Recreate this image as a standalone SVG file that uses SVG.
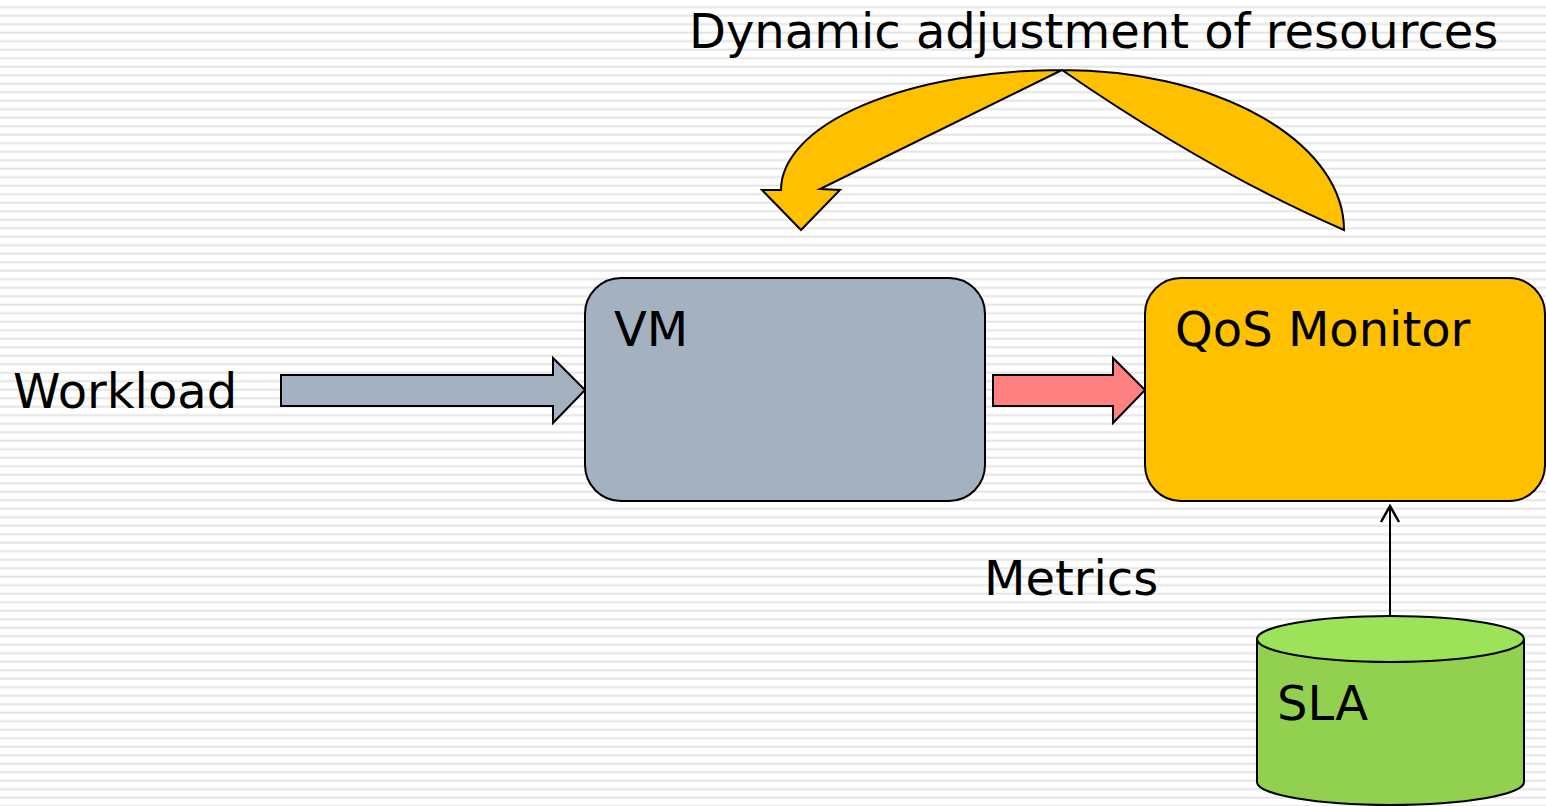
<svg xmlns="http://www.w3.org/2000/svg" width="1546" height="806" viewBox="0 0 1546 806">
<defs>
<pattern id="stripes" x="0" y="0" width="20" height="8.5" patternUnits="userSpaceOnUse">
<rect x="0" y="0" width="20" height="8.5" fill="#ffffff"/>
<rect x="0" y="6.2" width="20" height="2" fill="#e4e4e4"/>
</pattern>
<style>
.t{font-family:"DejaVu Sans",Verdana,sans-serif;font-size:48px;fill:#000}
.s{stroke:#000;stroke-width:2;stroke-linejoin:miter}
</style>
</defs>
<rect width="1546" height="806" fill="url(#stripes)"/>
<text class="t" x="689" y="48">Dynamic adjustment of resources</text>
<g id="feedback-arrow">
<path class="s" fill="#FFC000" d="M781,190 A281,120 0 0 1 1062,70 A282,160 0 0 1 1344,230 Q1210,172 1062,70 L820,189 L840,190 L801,230 L762,190 Z"/>
</g>
<g id="connectors">
<path class="s" fill="#A3B1C1" d="M281,375 L553,375 L553,358 L585,390 L553,423 L553,406 L281,406 Z"/>
<path class="s" fill="#FF8080" d="M993,375 L1113,375 L1113,358 L1145,390 L1113,423 L1113,406 L993,406 Z"/>
<line x1="1390" y1="615" x2="1390" y2="506" stroke="#000" stroke-width="2"/>
<polyline points="1381,522 1390,506 1399,522" fill="none" stroke="#000" stroke-width="2.5"/>
</g>
<g id="workload"><text class="t" x="13" y="408">Workload</text></g>
<g id="vm">
<rect class="s" x="585" y="278" width="400" height="223" rx="36" fill="#A3B1C1"/>
<text class="t" x="614" y="346">VM</text>
</g>
<g id="qos">
<rect class="s" x="1145" y="278" width="400" height="223" rx="36" fill="#FFC000"/>
<text class="t" x="1175" y="346">QoS Monitor</text>
</g>
<g id="metrics"><text class="t" x="984" y="595">Metrics</text></g>
<g id="sla">
<path class="s" fill="#92D050" d="M1257,639 L1257,782 A133.5,23 0 0 0 1524,782 L1524,639 Z"/>
<ellipse class="s" cx="1390.5" cy="639" rx="133.5" ry="23" fill="#9DE35A"/>
<text class="t" x="1277" y="720">SLA</text>
</g>
</svg>
